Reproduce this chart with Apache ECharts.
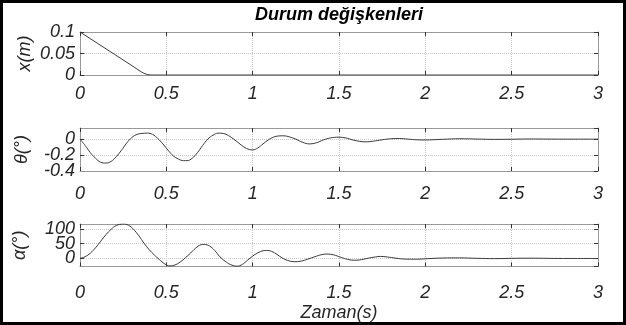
<!DOCTYPE html>
<html>
<head>
<meta charset="utf-8">
<script src="https://cdn.jsdelivr.net/npm/echarts@6/dist/echarts.min.js"></script>
<style>
html, body { margin: 0; padding: 0; background: #fff; }
#chart { width: 626px; height: 325px; }
</style>
</head>
<body>
<div id="chart"></div>
<script>
// konum x(m)
var posTime = [0, 0.1, 0.2, 0.3, 0.33, 0.35, 0.37, 0.39, 0.41, 0.5, 1, 2, 3];
var posVal  = [0.1, 0.074, 0.048, 0.022, 0.014, 0.0085, 0.004, 0.001, 0, 0, 0, 0, 0];

// theta (derece)
var thetaTime = [0, 0.03, 0.06, 0.09, 0.12, 0.15, 0.18, 0.21, 0.24, 0.27, 0.30, 0.33, 0.36, 0.39, 0.42, 0.45,
  0.48, 0.51, 0.54, 0.57, 0.60, 0.62, 0.65, 0.68, 0.71, 0.74, 0.77, 0.80, 0.83, 0.86, 0.89, 0.92, 0.95, 0.98,
  1.00, 1.03, 1.06, 1.09, 1.12, 1.15, 1.18, 1.21, 1.25, 1.29, 1.33, 1.37, 1.41, 1.45, 1.50, 1.54, 1.58, 1.62,
  1.66, 1.70, 1.75, 1.80, 1.85, 1.90, 1.95, 2.0, 2.1, 2.2, 2.3, 2.4, 2.5, 2.6, 2.8, 3.0];
var thetaVal = [0, -0.08, -0.17, -0.24, -0.29, -0.30, -0.28, -0.22, -0.14, -0.05, 0.02, 0.06, 0.072, 0.076, 0.06, 0.01,
  -0.06, -0.14, -0.21, -0.25, -0.27, -0.27, -0.24, -0.17, -0.08, 0.0, 0.05, 0.075, 0.072, 0.045, 0.0, -0.05, -0.10, -0.13,
  -0.135, -0.11, -0.06, -0.01, 0.025, 0.04, 0.042, 0.03, 0.0, -0.04, -0.06, -0.045, -0.01, 0.015, 0.025, 0.015, -0.01, -0.028,
  -0.034, -0.025, -0.008, 0.005, 0.008, 0.0, -0.008, -0.01, -0.002, 0.005, 0.001, -0.003, -0.001, 0.002, 0.0, 0.0];

// alfa (derece)
var alphaTime = [0, 0.03, 0.06, 0.09, 0.12, 0.15, 0.18, 0.21, 0.25, 0.28, 0.31, 0.34, 0.37, 0.40, 0.43, 0.46, 0.49,
  0.52, 0.55, 0.58, 0.61, 0.64, 0.67, 0.70, 0.72, 0.75, 0.78, 0.81, 0.84, 0.87, 0.91, 0.94, 0.97, 1.00, 1.03, 1.06,
  1.08, 1.11, 1.14, 1.17, 1.20, 1.24, 1.28, 1.32, 1.36, 1.40, 1.43, 1.47, 1.51, 1.55, 1.59, 1.63, 1.67, 1.71, 1.74,
  1.78, 1.83, 1.88, 1.95, 2.0, 2.1, 2.2, 2.3, 2.4, 2.5, 2.6, 2.8, 3.0];
var alphaVal = [0, 6, 18, 36, 58, 80, 98, 111, 116, 112, 98, 77, 52, 30, 12, -4, -18,
  -25, -22, -12, 2, 18, 35, 46, 47, 42, 27, 6, -9, -20, -26, -20, -6, 8, 19, 26,
  27, 24, 14, 2, -6, -11, -9, -2, 6, 13, 15, 12, 4, -3, -6, -4, 1, 5, 7,
  5, 1, -2, -2.5, -1, 1.5, 2, 0.5, -0.5, 0.5, 1, 0, 0];

var timeTicks = [0, 3, 0.5];     // min, max, aralik
var posTicks = [0, 0.1, 0.05];
var thetaTicks = [-0.4, 0.14, 0.2];
var alphaRange = [-27, 116, 50];

function pairs(t, v) {
	var out = [];
	for (var i = 0; i < t.length; i++) {
		out.push([t[i], v[i]]);
	}
	return out;
}

var fontName = 'Liberation Sans';
var tickFont = { fontFamily: fontName, fontStyle: 'italic', fontSize: 18, color: '#262626' };

function bottomAxis(gi, margin, name) {
	var ax = {
		gridIndex: gi, type: 'value', position: 'bottom',
		min: timeTicks[0], max: timeTicks[1], interval: timeTicks[2],
		axisLine: { show: true, onZero: false, lineStyle: { color: '#999', width: 1 } },
		axisTick: { show: true, inside: true, length: 4, lineStyle: { color: '#333' } },
		axisLabel: Object.assign({ margin: margin }, tickFont),
		splitLine: { show: true, lineStyle: { color: '#c8c8c8', type: 'dotted', width: 1 } }
	};
	if (name) {
		ax.name = name;
		ax.nameLocation = 'middle';
		ax.nameGap = 37;
		ax.nameMoveOverlap = false;
		ax.nameTextStyle = tickFont;
	}
	return ax;
}

function topAxis(gi) {
	return {
		gridIndex: gi, type: 'value', position: 'top',
		min: timeTicks[0], max: timeTicks[1], interval: timeTicks[2],
		axisLine: { show: true, onZero: false, lineStyle: { color: '#999', width: 1 } },
		axisTick: { show: true, inside: true, length: 4, lineStyle: { color: '#333' } },
		axisLabel: { show: false },
		splitLine: { show: false }
	};
}

function leftAxis(gi, opt, labelOpt, name, nameGap) {
	var ax = {
		gridIndex: gi, type: 'value', position: 'left',
		axisLine: { show: true, onZero: false, lineStyle: { color: '#999', width: 1 } },
		axisTick: { show: true, inside: true, length: 4, lineStyle: { color: '#333' } },
		axisLabel: Object.assign({ margin: 5, hideOverlap: false }, tickFont, labelOpt),
		splitLine: { show: true, lineStyle: { color: '#c8c8c8', type: 'dotted', width: 1 } },
		name: name, nameLocation: 'middle', nameRotate: 90, nameGap: nameGap,
		nameMoveOverlap: false,
		nameTextStyle: tickFont
	};
	return Object.assign(ax, opt);
}

function rightAxis(gi, opt) {
	var ax = {
		gridIndex: gi, type: 'value', position: 'right',
		axisLine: { show: true, onZero: false, lineStyle: { color: '#999', width: 1 } },
		axisTick: { show: true, inside: true, length: 4, lineStyle: { color: '#333' } },
		axisLabel: { show: false },
		splitLine: { show: false }
	};
	return Object.assign(ax, opt);
}

// theta ekseninin alt etiketi (-0.4) ayri eksende, ust uste binince gizlenmesin diye
function minLabelAxis(gi, opt) {
	return {
		gridIndex: gi, type: 'value', position: 'left',
		min: opt.min, max: opt.max, interval: 2 * opt.interval,
		axisLine: { show: false }, axisTick: { show: false }, splitLine: { show: false },
		axisLabel: Object.assign({ margin: 5, showMinLabel: true, showMaxLabel: false,
			formatter: function (v) { return v === opt.min ? String(v) : ''; } }, tickFont)
	};
}

var posY = { min: posTicks[0], max: posTicks[1], interval: posTicks[2] };
var thetaY = { min: thetaTicks[0], max: thetaTicks[1], interval: thetaTicks[2] };
var alphaY = { min: alphaRange[0], max: alphaRange[1], minInterval: alphaRange[2], maxInterval: alphaRange[2] };

var lineStyle = { color: '#3a3a3a', width: 1 };

var dom = document.getElementById('chart');
var myChart = echarts.init(dom);

myChart.setOption({
	animation: false,
	backgroundColor: '#fff',
	title: {
		text: 'Durum değişkenleri',
		left: 339, top: 6, padding: 0, textAlign: 'center',
		textStyle: { fontFamily: fontName, fontStyle: 'italic', fontWeight: 'bold', fontSize: 18, color: '#000' }
	},
	grid: [
		{ left: 80, right: 28, top: 32, height: 43 },
		{ left: 80, right: 28, top: 128, height: 43 },
		{ left: 80, right: 28, top: 224, height: 42.5 }
	],
	xAxis: [
		bottomAxis(0, 10), topAxis(0),
		bottomAxis(1, 13.5), topAxis(1),
		bottomAxis(2, 17, 'Zaman(s)'), topAxis(2)
	],
	yAxis: [
		leftAxis(0, posY, {}, 'x(m)', 46), rightAxis(0, posY),
		leftAxis(1, thetaY, { showMinLabel: false, showMaxLabel: false }, 'θ(°)', 49), rightAxis(1, thetaY),
		leftAxis(2, alphaY, { showMinLabel: false, showMaxLabel: false }, 'α(°)', 51), rightAxis(2, alphaY),
		minLabelAxis(1, thetaY)
	],
	series: [
		{ type: 'line', xAxisIndex: 0, yAxisIndex: 0, data: pairs(posTime, posVal), showSymbol: false, lineStyle: lineStyle, silent: true },
		{ type: 'line', xAxisIndex: 2, yAxisIndex: 2, data: pairs(thetaTime, thetaVal), showSymbol: false, smooth: 0.4, lineStyle: lineStyle, silent: true },
		{ type: 'line', xAxisIndex: 4, yAxisIndex: 4, data: pairs(alphaTime, alphaVal), showSymbol: false, smooth: 0.4, lineStyle: lineStyle, silent: true }
	],
	graphic: [
		{ type: 'rect', silent: true, z: 100, shape: { x: 1.5, y: 1.5, width: 623, height: 322 }, style: { fill: null, stroke: '#000', lineWidth: 3 } }
	]
});

window.addEventListener('resize', function () {
	myChart.resize();
});
</script>
</body>
</html>
